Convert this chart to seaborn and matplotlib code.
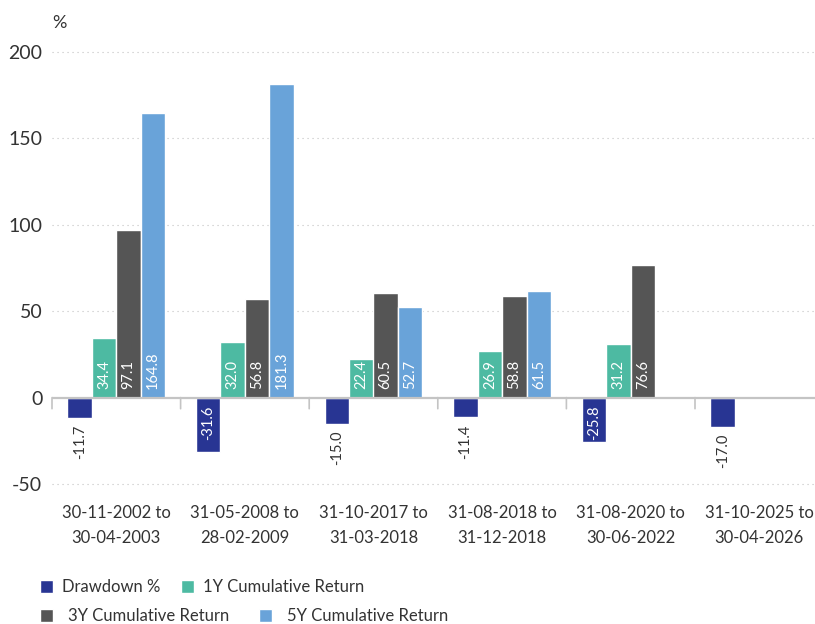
import numpy as np
import pandas as pd
import matplotlib
matplotlib.use("Agg")
import matplotlib.pyplot as plt
import seaborn as sns

categories = ["30-11-2002 to\n30-04-2003", "31-05-2008 to\n28-02-2009", "31-10-2017 to\n31-03-2018",
              "31-08-2018 to\n31-12-2018", "31-08-2020 to\n30-06-2022", "31-10-2025 to\n30-04-2026"]
series = ["Drawdown %", "1Y Cumulative Return", "3Y Cumulative Return", "5Y Cumulative Return"]
drawdown = [-11.7, -31.6, -15.0, -11.4, -25.8, -17.0]
ret_1y = [34.4, 32.0, 22.4, 26.9, 31.2, np.nan]
ret_3y = [97.1, 56.8, 60.5, 58.8, 76.6, np.nan]
ret_5y = [164.8, 181.3, 52.7, 61.5, np.nan, np.nan]
colors = ["#283593", "#4dbaa2", "#555555", "#69a3d9"]
y_ticks = [-50, 0, 50, 100, 150, 200]

sns.set_theme(style="white")
plt.rcParams["font.family"] = ["Lato", "DejaVu Sans"]

rows = []
for s, vals in zip(series, [drawdown, ret_1y, ret_3y, ret_5y]):
    for c, v in zip(categories, vals):
        rows.append({"period": c, "series": s, "value": v})
df = pd.DataFrame(rows)

W, H = 815, 624
fig = plt.figure(figsize=(W / 100, H / 100), dpi=100)
left_px, right_px = 52, 815
top_px, bot_px = 52, 484
ax = fig.add_axes([left_px / W, 1 - bot_px / H, (right_px - left_px) / W, (bot_px - top_px) / H])

sns.barplot(data=df, x="period", y="value", hue="series", order=categories,
            hue_order=series, palette=colors, width=0.76, saturation=1,
            ax=ax, errorbar=None, zorder=3)

handles, labels = ax.get_legend_handles_labels()
if ax.get_legend() is not None:
    ax.get_legend().remove()

ax.set_ylim(-50, 200)
ax.set_xlim(-0.5, -0.5 + (right_px - left_px) / 128.6)
for sp in ax.spines.values():
    sp.set_visible(False)

# gridlines
for t in y_ticks:
    if t == 0:
        ax.axhline(0, color="#c4c4c4", lw=1.6, zorder=4)
    else:
        ax.axhline(t, color="#c2c2c2", lw=0.8, ls=(0, (1, 3.5)), zorder=1, clip_on=False)

ax.set_yticks(y_ticks)
ax.set_yticklabels([str(t) for t in y_ticks], fontsize=14, color="#333333")
ax.tick_params(axis="y", length=0, pad=7)
ax.set_xticks(range(len(categories)))
ax.set_xticklabels([])
ax.tick_params(axis="x", length=0)
ax.set_xlabel("")
ax.set_ylabel("")

# group separator ticks on zero line
for i in range(len(categories)):
    ax.annotate("", xy=(i - 0.5, 0), xycoords="data", xytext=(0, -8), textcoords="offset points",
                arrowprops=dict(arrowstyle="-", color="#c4c4c4", lw=1.2, shrinkA=0, shrinkB=0))

# category labels
for i, c in enumerate(categories):
    ax.annotate(c, xy=(i, -50), xycoords="data", xytext=(0, -15), textcoords="offset points",
                ha="center", va="top", fontsize=12, color="#333333", linespacing=1.68,
                annotation_clip=False)

# value labels
for cont in ax.containers:
    for p in cont.patches:
        h = p.get_height()
        if np.isnan(h):
            continue
        x = p.get_x() + p.get_width() / 2
        txt = f"{h:.1f}"
        if h >= 0:
            ax.annotate(txt, xy=(x, 0), xytext=(0, 6), textcoords="offset points", rotation=90,
                        ha="center", va="bottom", color="white", fontsize=10.5, zorder=5)
        elif h < -20:
            ax.annotate(txt, xy=(x, 0), xytext=(0, -6), textcoords="offset points", rotation=90,
                        ha="center", va="top", color="white", fontsize=10.5, zorder=5)
        else:
            ax.annotate(txt, xy=(x, h), xytext=(0, -5), textcoords="offset points", rotation=90,
                        ha="center", va="top", color="#333333", fontsize=10.5, zorder=5)

fig.text(52 / W, 1 - 23 / H, "%", fontsize=13, color="#333333", ha="left", va="center")

# legend in two rows
common = dict(ncol=2, loc="center left", frameon=False, fontsize=12, borderpad=0,
              borderaxespad=0, handlelength=0.8, handleheight=0.8, labelcolor="#333333")
fig.legend(handles[:2], labels[:2], bbox_to_anchor=(40 / W, 1 - 587 / H),
           handletextpad=0.55, columnspacing=1.2, **common)
fig.legend(handles[2:], labels[2:], bbox_to_anchor=(40 / W, 1 - 616 / H),
           handletextpad=0.9, columnspacing=1.75, **common)

fig.savefig("out.png", dpi=100)
